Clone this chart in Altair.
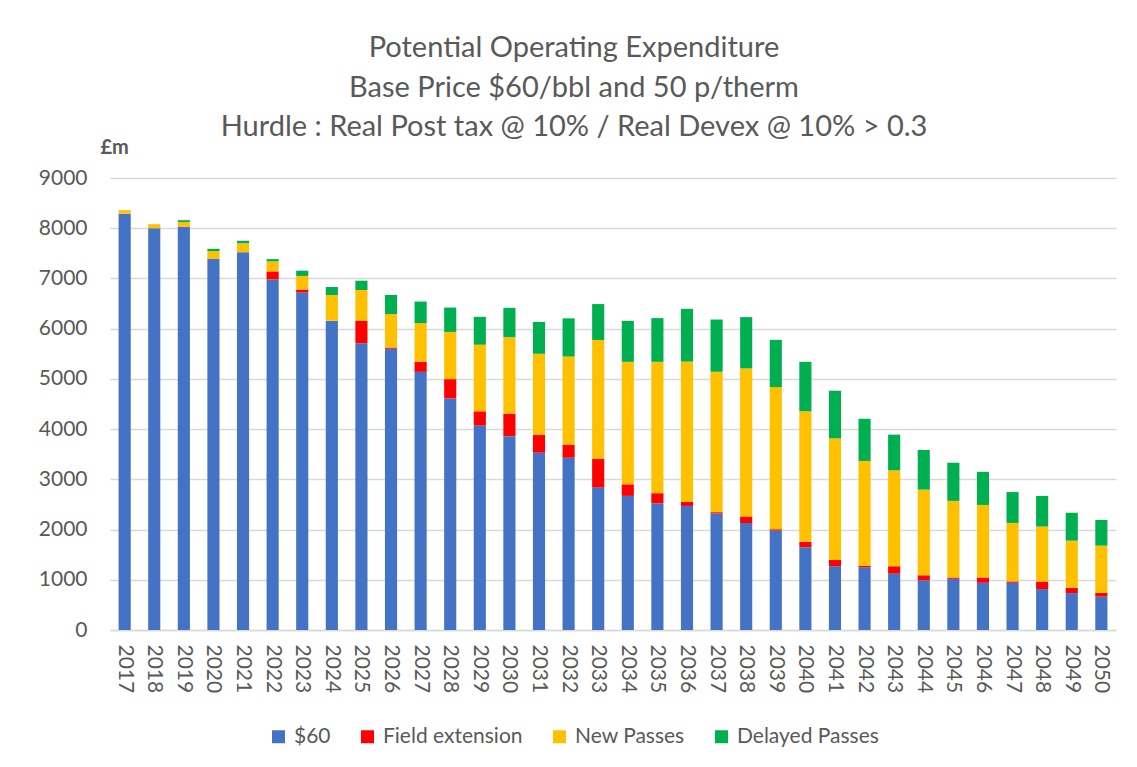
import altair as alt
import pandas as pd

years = [str(y) for y in range(2017, 2051)]
series = ["$60", "Field extension", "New Passes", "Delayed Passes"]
colors = ["#4472C4", "#FF0000", "#FFC000", "#00B050"]

base60 = [8290, 8000, 8030, 7390, 7520, 6980, 6720, 6160, 5710, 5600, 5140, 4610,
          4070, 3860, 3530, 3430, 2840, 2670, 2520, 2470, 2320, 2130, 1980, 1650,
          1270, 1250, 1120, 990, 1020, 940, 940, 815, 735, 665]
field_ext = [0, 0, 0, 0, 0, 160, 60, 0, 450, 25, 200, 385, 285, 445, 360, 260, 570,
             230, 205, 80, 27, 130, 27, 105, 125, 26, 150, 100, 26, 105, 27, 150, 105, 75]
new_passes = [70, 80, 95, 155, 180, 200, 270, 510, 610, 665, 770, 940, 1325, 1525,
              1610, 1755, 2365, 2440, 2615, 2795, 2795, 2950, 2830, 2600, 2420, 2090,
              1910, 1705, 1525, 1445, 1165, 1095, 940, 940]
delayed = [0, 0, 35, 45, 50, 45, 105, 160, 185, 380, 430, 485, 555, 585, 635, 760,
           715, 815, 870, 1050, 1040, 1020, 940, 985, 950, 840, 710, 790, 760, 660,
           615, 610, 555, 510]

rows = []
for k, (name, vals) in enumerate(zip(series, [base60, field_ext, new_passes, delayed])):
    for y, v in zip(years, vals):
        rows.append({"year": y, "series": name, "value": v, "order": k})
df = pd.DataFrame(rows)

FONT = "Lato"
GREY = "#595959"

chart = alt.Chart(df).mark_bar().encode(
    x=alt.X("year:N", sort=years,
            scale=alt.Scale(paddingInner=0.59, paddingOuter=0.29),
            axis=alt.Axis(title=None, labelAngle=90, labelFontSize=21, labelColor=GREY,
                          labelFont=FONT, labelPadding=14, ticks=False,
                          domainColor="#D9D9D9", domainWidth=1.5,
                          labelAlign="left", labelBaseline="middle")),
    y=alt.Y("value:Q", stack="zero",
            scale=alt.Scale(domain=[0, 9000]),
            axis=alt.Axis(values=list(range(0, 9001, 1000)), format="d", title="£m",
                          titleAngle=0, titleX=-10, titleY=-31, titleAlign="left",
                          titleBaseline="middle", titleFontSize=20, titleFont=FONT,
                          titleFontWeight="bold", titleColor=GREY,
                          labelFontSize=21, labelColor=GREY, labelFont=FONT,
                          labelPadding=23, ticks=False, domain=False,
                          gridColor="#D9D9D9", gridWidth=1.5)),
    color=alt.Color("series:N", sort=series,
                    scale=alt.Scale(domain=series, range=colors),
                    legend=alt.Legend(title=None, orient="none", direction="horizontal",
                                      legendX=158, legendY=548, symbolType="square",
                                      symbolSize=169, symbolStrokeWidth=0,
                                      labelFontSize=21, labelFont=FONT, labelColor=GREY,
                                      labelOffset=5, columnPadding=26, padding=0)),
    order=alt.Order("order:Q", sort="ascending"),
).properties(
    width=1006,
    height=452,
    autosize=alt.AutoSizeParams(type="none"),
    padding={"left": 102, "top": 170, "right": 10, "bottom": 125},
    title=alt.TitleParams(
        text=["Potential Operating Expenditure",
              "Base Price $60/bbl and 50 p/therm",
              "Hurdle : Real Post tax @ 10% / Real Devex @ 10% > 0.3"],
        fontSize=29, font=FONT, fontWeight="normal", color=GREY,
        lineHeight=39.5, anchor="middle", frame="group", dx=-39, offset=-5),
).configure(background="white").configure_view(stroke=None)

chart.save("out.html", embed_options={"renderer": "svg", "actions": False})
